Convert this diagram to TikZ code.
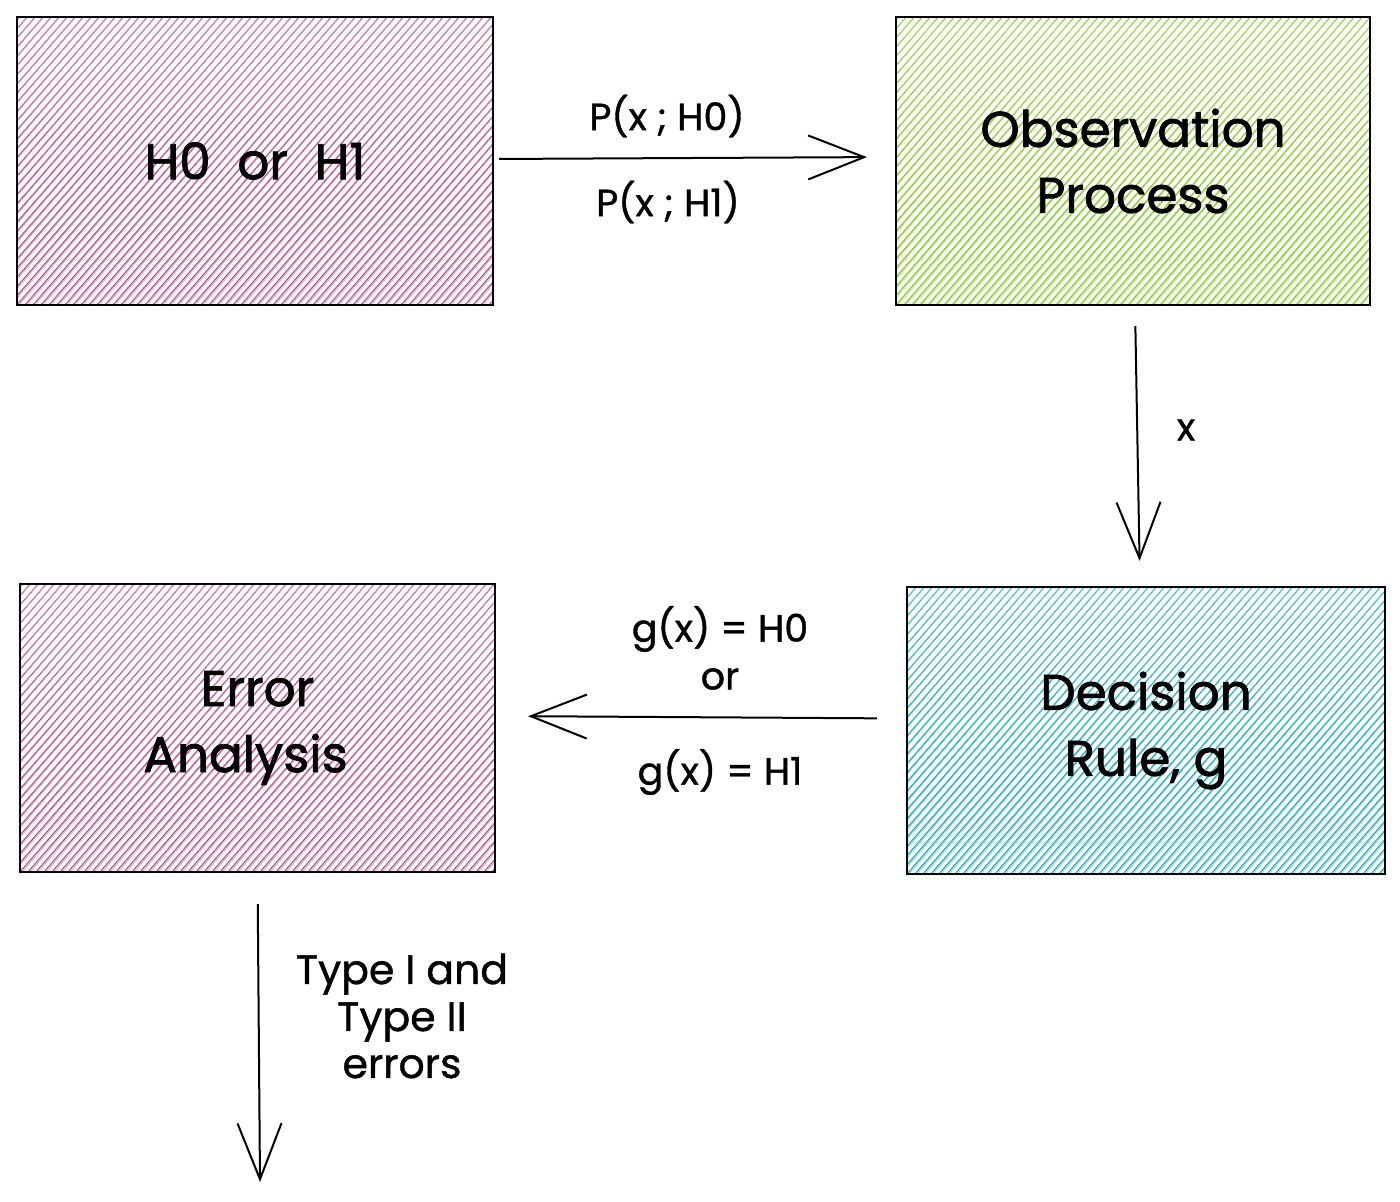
\documentclass[tikz,border=0pt]{standalone}
\usepackage{fontspec}
\setmainfont{Poppins}
\newfontfamily\boxfont[FakeBold=1.6]{Poppins}
\newfontfamily\lblfont[FakeBold=1.0]{Poppins}
\usetikzlibrary{arrows.meta,calc}
\definecolor{hpink}{RGB}{186,76,138}
\definecolor{hgreen}{RGB}{130,201,30}
\definecolor{hteal}{RGB}{21,170,191}
\tikzset{
  hbox/.style={draw=black, line width=1.1pt, minimum width=238pt, minimum height=144pt,
    inner sep=0pt, align=center, font=\boxfont\fontsize{25}{33}\selectfont,
    path picture={
      \coordinate (sw) at (path picture bounding box.south west);
      \foreach \i in {-272,-264,...,490}{
        \draw[#1, line width=0.55pt] ($(sw)+(\i,0)$) -- ++(252,-290);
        \draw[#1!60, line width=0.3pt] ($(sw)+(\i+2,0)$) -- ++(250,-290);
      }
    }},
  conn/.style={line width=1pt, -{Straight Barb[length=28pt,width=22pt,line width=1pt]}},
  lbl/.style={font=\lblfont\fontsize{19}{23.5}\selectfont, align=center, inner sep=0pt}
}
\begin{document}
\begin{tikzpicture}[x=0.5pt,y=-0.5pt]
\fill[white] (0,0) rectangle (1400,1202);
\useasboundingbox (0,0) rectangle (1400,1202);

\node[hbox=hpink] (A) at (255,161) {H0\ \ or\ \ H1};
\node[hbox=hgreen, minimum width=237pt] (B) at (1133,161) {Observation\\Process};
\node[hbox=hteal, minimum width=239pt, minimum height=143.5pt] (C) at (1146,730.5) {Decision\\Rule, g};
\node[hbox=hpink, minimum width=237.5pt] (D) at (257.5,728) {Error\\Analysis\hspace*{12pt}};

\coordinate (E) at (260,1182);

\draw[conn, shorten <=2.5pt, shorten >=14pt] ([yshift=1pt]A.east) -- ([yshift=2pt]B.west);
\draw[conn, shorten <=10pt, shorten >=12.5pt] ([xshift=1pt]B.south) -- ([xshift=-3pt]C.north);
\draw[conn, shorten <=14.5pt, shorten >=16pt] ([yshift=6pt]C.west) -- ([yshift=6pt]D.east);
\draw[conn, shorten <=15.5pt] (D.south) -- (E);

\node[lbl] (l1) at (667,116) {P(x\ ;\ H0)};
\node[lbl] (l2) at (668,202) {P(x\ ;\ H1)};
\node[lbl] (l3) at (1186,430) {x};
\node[lbl] (l4) at (720,629) {g(x) = H0};
\node[lbl] (l5) at (720,679) {or};
\node[lbl] (l6) at (720,772) {g(x) = H1};
\node[lbl, font=\lblfont\fontsize{20.5}{23.5}\selectfont] (l7) at (402,1016) {Type I and\\Type II\\errors};
\end{tikzpicture}
\end{document}
